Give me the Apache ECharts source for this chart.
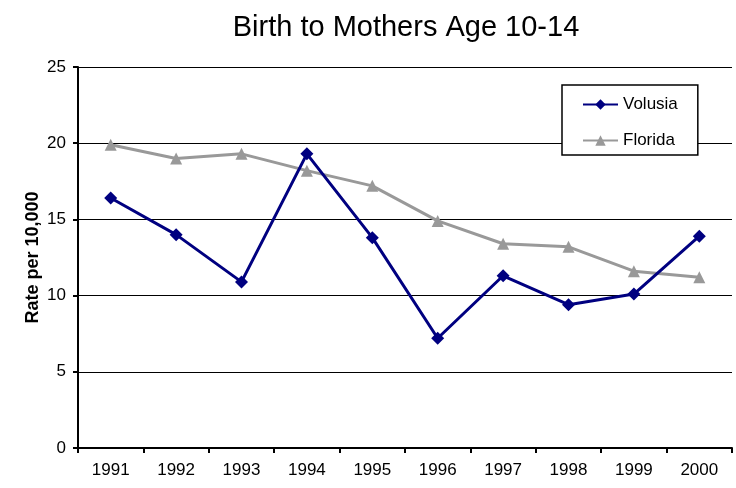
<!DOCTYPE html>
<html><head><meta charset="utf-8">
<script src="https://cdn.jsdelivr.net/npm/echarts@6/dist/echarts.min.js"></script>
<style>html,body{margin:0;padding:0;background:#fff}#c{width:736px;height:488px}</style>
</head><body><div id="c"></div>
<script>
const years = ['1991','1992','1993','1994','1995','1996','1997','1998','1999','2000'];
const volusia = [16.4, 14.0, 10.9, 19.3, 13.8, 7.2, 11.3, 9.4, 10.1, 13.9];
const florida = [19.9, 19.0, 19.3, 18.2, 17.2, 14.9, 13.4, 13.2, 11.6, 11.2];
const chart = echarts.init(document.getElementById('c'));
const font = 'Liberation Sans, Arial, sans-serif';
chart.setOption({
  animation: false,
  backgroundColor: '#fff',
  title: { text: 'Birth to Mothers Age 10-14', left: 401, top: 8, textAlign: 'center',
    textStyle: { fontFamily: font, fontSize: 29, fontWeight: 'normal', color: '#000' } },
  legend: {
    orient: 'vertical', left: 562, top: 85,
    backgroundColor: '#fff', borderColor: '#000', borderWidth: 1.5,
    padding: [11, 20, 6, 20], itemGap: 19, itemWidth: 35, itemHeight: 13,
    textStyle: { fontFamily: font, fontSize: 17, color: '#000' },
    data: ['Volusia', 'Florida']
  },
  grid: { left: 78, right: 4, top: 67, bottom: 40, containLabel: false },
  xAxis: {
    type: 'category', data: years, boundaryGap: true,
    axisLine: { lineStyle: { color: '#000', width: 2 } },
    axisTick: { show: true, length: 5, lineStyle: { color: '#000', width: 2 } },
    axisLabel: { fontFamily: font, fontSize: 17, color: '#000', margin: 14 }
  },
  yAxis: {
    type: 'value', min: 0, max: 25, interval: 5,
    name: 'Rate per 10,000', nameLocation: 'middle', nameGap: 36, nameMoveOverlap: false,
    nameTextStyle: { fontFamily: font, fontSize: 18, fontWeight: 'bold', color: '#000' },
    axisLine: { show: true, lineStyle: { color: '#000', width: 2 } },
    axisTick: { show: true, length: 5, lineStyle: { color: '#000', width: 2 } },
    axisLabel: { fontFamily: font, fontSize: 17, color: '#000', margin: 12 },
    splitLine: { show: true, lineStyle: { color: '#000', width: 1 } }
  },
  series: [
    { name: 'Volusia', type: 'line', data: volusia, symbol: 'diamond', symbolSize: 13,
      lineStyle: { color: '#000080', width: 3 }, itemStyle: { color: '#000080' }, z: 3 },
    { name: 'Florida', type: 'line', data: florida, symbol: 'triangle', symbolSize: 12,
      lineStyle: { color: '#999999', width: 3 }, itemStyle: { color: '#999999' }, z: 2 }
  ]
});
</script></body></html>
